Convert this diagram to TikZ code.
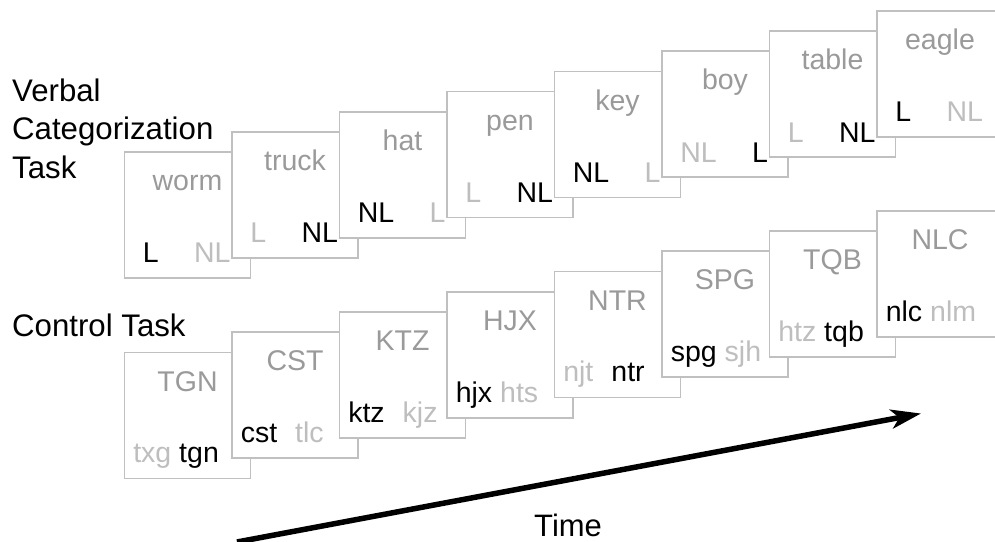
\documentclass[tikz,border=0pt]{standalone}
\usepackage{fontspec}
\setmainfont{Liberation Sans}
\usetikzlibrary{arrows.meta}
\definecolor{cardedge}{HTML}{C0C0C0}
\definecolor{cardtitle}{HTML}{9A9A9A}
\definecolor{cardfaint}{HTML}{BEBEBE}
\newcommand{\faint}[1]{\textcolor{cardfaint}{#1}}
\newcommand{\keygap}{\hspace{35.5pt}}
\newcommand{\widegap}{\hspace{18pt}}
\tikzset{
 card box/.style={draw=cardedge,line width=1.8pt,fill=white,
   minimum width=126pt,minimum height=126pt,inner sep=0pt},
 card title/.style={text=cardtitle,font=\fontsize{28.5}{34}\selectfont,
   inner sep=0pt,anchor=base},
 card keys/.style={font=\fontsize{28.5}{34}\selectfont,inner sep=0pt,anchor=base west},
 task label/.style={font=\fontsize{31.2}{38.2}\selectfont,inner sep=0pt,align=left,
   anchor=base west},
 time flow/.style={-{Stealth[length=30pt,width=19pt,inset=8pt]},line width=5.5pt},
 pics/verbal card/.style n args={2}{code={
   \node[card box] (-box) at (0,0) {};
   \node[card title] (-word) at ([yshift=-39.5pt]-box.north) {#1};
   \node[card keys] (-keys) at ([xshift=19pt,yshift=16pt]-box.south west) {#2};
 }},
 pics/control card/.style n args={2}{code={
   \node[card box] (-box) at (0,0) {};
   \node[card title] (-word) at ([yshift=-39.5pt]-box.north) {#1};
   \node[card keys] (-keys) at ([xshift=9.5pt,yshift=16.5pt]-box.south west) {#2};
 }}
}

\begin{document}
\begin{tikzpicture}[x=1pt,y=-1pt]
\useasboundingbox (0,0) rectangle (995,541);
% base of a multi-line label is its last line
\node[task label] (verbal) at (12,178) {Verbal\\Categorization\\Task};
\node[task label] (control) at (12,336.7) {Control Task};
% verbal categorization trials
\pic (v1) at (187.5,215) {verbal card={worm}{L\keygap\faint{NL}}};
\pic (v2) at (295,194.85) {verbal card={truck}{\faint{L}\keygap NL}};
\pic (v3) at (402.5,174.7) {verbal card={hat}{NL\keygap\faint{L}}};
\pic (v4) at (510,154.55) {verbal card={pen}{\faint{L}\keygap NL}};
\pic (v5) at (617.5,134.4) {verbal card={key}{NL\keygap\faint{L}}};
\pic (v6) at (725,114.25) {verbal card={boy}{\faint{NL}\keygap L}};
\pic (v7) at (832.5,94.1) {verbal card={table}{\faint{L}\keygap NL}};
\pic (v8) at (940,73.95) {verbal card={eagle}{L\keygap\faint{NL}}};
% control trials
\pic (c1) at (187.5,415.5) {control card={TGN}{\faint{txg} tgn}};
\pic (c2) at (295,395.25) {control card={CST}{cst\widegap\faint{tlc}}};
\pic (c3) at (402.5,375) {control card={KTZ}{ktz\widegap\faint{kjz}}};
\pic (c4) at (510,354.75) {control card={HJX}{hjx \faint{hts}}};
\pic (c5) at (617.5,334.5) {control card={NTR}{\faint{njt}\widegap ntr}};
\pic (c6) at (725,314.25) {control card={SPG}{spg \faint{sjh}}};
\pic (c7) at (832.5,294) {control card={TQB}{\faint{htz} tqb}};
\pic (c8) at (940,273.75) {control card={NLC}{nlc \faint{nlm}}};
% time axis
\coordinate (t0) at (237,542);
\coordinate (t1) at (921,413.5);
\draw[time flow] (t0) -- (t1);
\node[font=\fontsize{31}{36}\selectfont,inner sep=0pt,anchor=base west] (time) at (534,536) {Time};
\end{tikzpicture}
\end{document}
